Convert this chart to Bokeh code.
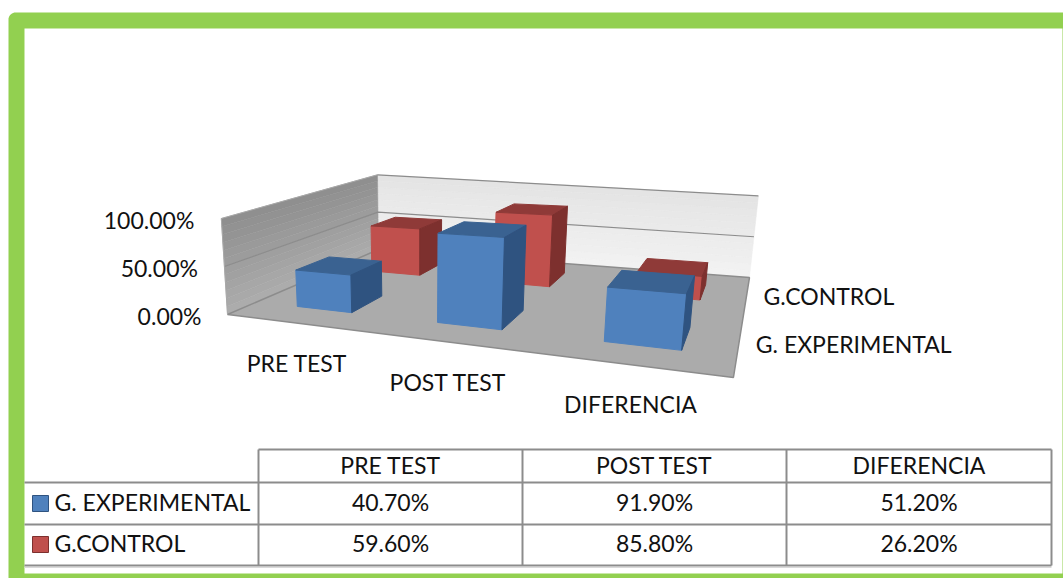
import numpy as np
from bokeh.plotting import figure
from bokeh.models import Range1d
from bokeh.core.properties import value
from bokeh.embed import file_html
from bokeh.resources import INLINE

categories = ["PRE TEST", "POST TEST", "DIFERENCIA"]
series_names = ["G. EXPERIMENTAL", "G.CONTROL"]
experimental = [40.7, 91.9, 51.2]
control = [59.6, 85.8, 26.2]
value_ticks = [0, 50, 100]

FONT = value("Lato")
FS = "23px"
BLUE = ("#4F81BD", "#3A6291", "#2F5380")
RED = ("#C0504D", "#8F3A38", "#7D302E")

p = figure(width=1063, height=578, output_backend="svg", toolbar_location=None,
           x_range=Range1d(0, 1063), y_range=Range1d(578, 0), min_border=0)
p.axis.visible = False
p.grid.visible = False
p.outline_line_color = None
p.background_fill_color = "white"
p.border_fill_color = "white"

# ---- page frame (rounded green panel)
def rounded(x0, y0, x1, y1, r):
    t = np.linspace(0, np.pi / 2, 10)
    xs = np.r_[x0 + r - r * np.cos(t), x1 - r + r * np.sin(t), x1 - r + r * np.cos(t), x0 + r - r * np.sin(t)]
    ys = np.r_[y0 + r - r * np.sin(t), y0 + r - r * np.cos(t), y1 - r + r * np.sin(t), y1 - r + r * np.cos(t)]
    return xs, ys

fx, fy = rounded(8, 12, 1075, 590, 7)
p.patch(fx, fy, fill_color="#92D050", line_color=None)
p.quad(left=24, right=1062, top=28, bottom=573, fill_color="white", line_color=None)

# ---- perspective of the 3D plot box: u along categories, v in depth
A, B, C, D, E, F, G, H = 326.3, 292.6, 227.0, -29.4, 28.3, 314.0, -0.2451, 0.3745

def proj(u, v, pct, k):
    den = G * u + H * v + 1
    x = (A * u + B * v + C) / den
    y = (D * u + E * v + F) / den
    h = pct / 100 * k / den
    return x + (x - 420) / 3000 * h, y - h

def wall(*corners):
    pts = [proj(u, v, w, 96 * (1 + 0.07 * v - 0.11 * u * v)) for u, v, w in corners]
    return [a for a, _ in pts], [b for _, b in pts]

def shade(c0, c1, f):
    return "#{0:02X}{0:02X}{0:02X}".format(int(round(c0 + (c1 - c0) * f)))

EDGE = "#8C8C8C"
STEPS = 12
for n in range(STEPS):
    w0, w1 = 100 * n / STEPS, 100 * (n + 1) / STEPS
    col = shade(0xF2, 0xE4, n / (STEPS - 1))
    xs, ys = wall((0, 1, w0), (1, 1, w0), (1, 1, w1), (0, 1, w1))
    p.patch(xs, ys, fill_color=col, line_color=col, line_width=0.5)
    col = shade(0xAC, 0x8F, n / (STEPS - 1))
    xs, ys = wall((0, 0, w0), (0, 1, w0), (0, 1, w1), (0, 0, w1))
    p.patch(xs, ys, fill_color=col, line_color=col, line_width=0.5)
p.line(*wall((0, 1, 100), (1, 1, 100)), line_color=EDGE, line_width=1.2)
xs, ys = wall((0, 0, 0), (1, 0, 0), (1, 1, 0), (0, 1, 0))
p.patch(xs, ys, fill_color="#ABABAB", line_color=EDGE, line_width=1.5)
p.line(*wall((0, 0, 50), (0, 1, 50), (1, 1, 50)), line_color=EDGE, line_width=1.2)
p.line(*wall((0, 1, 100), (0, 0, 100), (0, 0, 0)), line_color="#A8A8A8", line_width=1)

# ---- bars
HU, HV = 0.068, 0.10
def bar(i, s, val, cols):
    uc, vc = (i + 0.5) / 3 + 0.008, (s + 0.5) / 2
    u0, u1, v0, v1 = uc - HU, uc + HU, vc - HV, vc + HV
    K = 92
    faces = [
        ([(u0, v0, 0), (u1, v0, 0), (u1, v0, val), (u0, v0, val)], cols[0]),
        ([(u0, v0, val), (u1, v0, val), (u1, v1, val), (u0, v1, val)], cols[1]),
        ([(u1, v0, 0), (u1, v1, 0), (u1, v1, val), (u1, v0, val)], cols[2]),
    ]
    for pts, col in faces:
        q = [proj(a, b, c, K) for a, b, c in pts]
        p.patch([a for a, _ in q], [b for _, b in q], fill_color=col, line_color=col, line_width=1)

for i, val in enumerate(control):
    bar(i, 1, val, RED)
for i, val in enumerate(experimental):
    bar(i, 0, val, BLUE)

def label(x, y, text, align="center"):
    p.text([x], [y], text=[text], text_font=FONT, text_font_size=FS, text_color="#111111",
           text_align=align, text_baseline="middle")

# ---- axis texts
for t in value_ticks:
    x, y = proj(0, 0, t, 96)
    label(x - 26 - (t / 100) * 1, y + 1, f"{t:.2f}%", "right")
for i, c in enumerate(categories):
    x, y = proj((i + 0.5) / 3, 0, 0, 96)
    label(x + 3, y + 40, c)
for s, n in enumerate(series_names):
    x, y = proj(1, (s + 0.5) / 2, 0, 96)
    label(x + 17, y, n, "left")

# ---- data table
TC = "#8C8C8C"
col_x = [258, 522, 786, 1051]
row_y = [449, 482, 524, 565]
p.segment(x0=col_x[0], y0=row_y[0], x1=col_x[-1], y1=row_y[0], line_color=TC, line_width=2)
for y in row_y[1:]:
    p.segment(x0=24, y0=y, x1=col_x[-1], y1=y, line_color=TC, line_width=2)
for x in col_x:
    p.segment(x0=x, y0=row_y[0], x1=x, y1=row_y[-1], line_color=TC, line_width=2)
p.segment(x0=24, y0=567, x1=1051, y1=567, line_color="#D9D9D9", line_width=1)

for i, c in enumerate(categories):
    cx = (col_x[i] + col_x[i + 1]) / 2
    label(cx, 464, c)
    label(cx, 501, f"{experimental[i]:.2f}%")
    label(cx, 542, f"{control[i]:.2f}%")
label(54, 501, series_names[0], "left")
label(54, 542, series_names[1], "left")
for yc, cols in [(503, BLUE), (544, RED)]:
    p.quad(left=32, right=48, top=yc - 8, bottom=yc + 8, fill_color=cols[0], line_color=cols[2], line_width=1)

open("out.html", "w").write(file_html(p, INLINE))
